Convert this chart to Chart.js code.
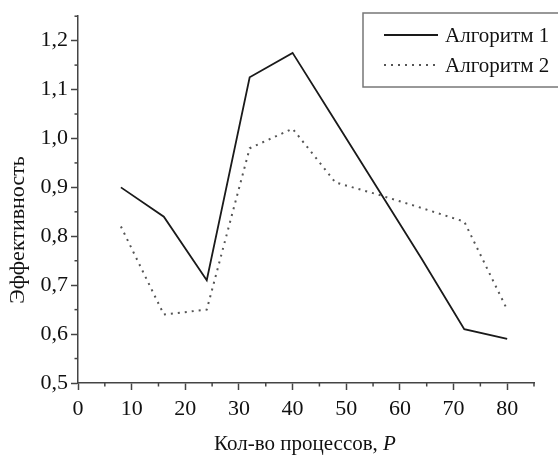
<!DOCTYPE html>
<html>
<head>
<meta charset="utf-8">
<script src="https://cdn.jsdelivr.net/npm/chart.js@4"></script>
<style>
  body { margin: 0; background: #fff; }
  #wrap { width: 558px; height: 456px; }
</style>
</head>
<body>
<div id="wrap"><canvas id="effChart" width="558" height="456"></canvas></div>
<script>
// данные с графика
var processes = [8, 16, 24, 32, 40, 48, 56, 64, 72, 80];
var algo1 = [0.90, 0.84, 0.71, 1.125, 1.175, 1.035, 0.895, 0.755, 0.61, 0.59];
var algo2 = [0.82, 0.64, 0.65, 0.98, 1.02, 0.91, 0.885, 0.858, 0.83, 0.65];
var seriesNames = ['Алгоритм 1', 'Алгоритм 2'];
var xTitle = 'Кол-во процессов, ';
var xTitleItalic = 'P';
var yTitle = 'Эффективность';

var serif = '"Liberation Serif", "Times New Roman", serif';
var axisColor = '#444';

function pts(ys) {
    return processes.map(function (p, i) { return { x: p, y: ys[i] }; });
}

// малые засечки, легенда в рамке и подписи осей
var extras = {
    id: 'extras',
    afterDraw: function (chart) {
        var c = chart.ctx;
        var xs = chart.scales.x, ys = chart.scales.y;
        c.save();
        c.strokeStyle = axisColor;
        c.lineWidth = 1.5;
        xs.ticks.forEach(function (t) {
            if (t.value % 10 !== 0) {
                var px = xs.getPixelForValue(t.value);
                c.beginPath(); c.moveTo(px, xs.top); c.lineTo(px, xs.top + 3.5); c.stroke();
            }
        });
        ys.ticks.forEach(function (t) {
            if (Math.round(t.value * 100) % 10 !== 0) {
                var py = ys.getPixelForValue(t.value);
                c.beginPath(); c.moveTo(ys.right, py); c.lineTo(ys.right - 3.5, py); c.stroke();
            }
        });

        // легенда (правый край рамки за пределами картинки)
        c.strokeStyle = '#777';
        c.lineWidth = 1.5;
        c.strokeRect(363, 13, 200, 74);
        c.font = '21px ' + serif;
        c.textBaseline = 'middle';
        c.fillStyle = '#111';
        chart.data.datasets.forEach(function (ds, i) {
            var y = 35 + i * 30;
            c.save();
            c.strokeStyle = ds.borderColor;
            c.lineWidth = ds.borderWidth;
            c.setLineDash(ds.borderDash || []);
            c.beginPath(); c.moveTo(384, y); c.lineTo(438, y); c.stroke();
            c.restore();
            c.fillText(ds.label, 445, y + 1);
        });

        // подпись оси X (P курсивом)
        c.font = '21px ' + serif;
        var w1 = c.measureText(xTitle).width;
        c.font = 'italic 21px ' + serif;
        var w2 = c.measureText(xTitleItalic).width;
        var x0 = 305 - (w1 + w2) / 2;
        c.textAlign = 'left';
        c.font = '21px ' + serif;
        c.fillText(xTitle, x0, 444);
        c.font = 'italic 21px ' + serif;
        c.fillText(xTitleItalic, x0 + w1, 444);

        // подпись оси Y
        c.translate(18, 230);
        c.rotate(-Math.PI / 2);
        c.textAlign = 'center';
        c.font = '22px ' + serif;
        c.fillText(yTitle, 0, 0);
        c.restore();
    }
};

var ctx = document.getElementById('effChart').getContext('2d');
var effChart = new Chart(ctx, {
    type: 'line',
    data: {
        datasets: [{
            label: seriesNames[0],
            data: pts(algo1),
            borderColor: '#1a1a1a',
            borderWidth: 1.8,
            pointRadius: 0,
            tension: 0,
            fill: false
        }, {
            label: seriesNames[1],
            data: pts(algo2),
            borderColor: '#555',
            borderWidth: 2,
            borderDash: [2, 5],
            pointRadius: 0,
            tension: 0,
            fill: false
        }]
    },
    options: {
        responsive: false,
        animation: false,
        layout: { padding: { top: 13, right: 24, left: 0, bottom: 0 } },
        plugins: { legend: { display: false }, tooltip: { enabled: false } },
        scales: {
            x: {
                type: 'linear',
                min: 0,
                max: 85,
                afterFit: function (s) { s.height = 73; },
                border: { display: true, color: axisColor, width: 1.5 },
                grid: {
                    drawOnChartArea: false,
                    tickLength: 7,
                    tickWidth: 1.5,
                    color: function (c) { return c.tick && c.tick.value % 10 === 0 ? axisColor : 'transparent'; }
                },
                ticks: {
                    stepSize: 5,
                    autoSkip: false,
                    maxRotation: 0,
                    padding: 6,
                    color: '#111',
                    font: { family: serif, size: 22 },
                    callback: function (v) { return v % 10 === 0 && v <= 80 ? String(v) : ''; }
                }
            },
            y: {
                min: 0.5,
                max: 1.25,
                afterFit: function (s) { s.width = 78; },
                border: { display: true, color: axisColor, width: 1.5 },
                grid: {
                    drawOnChartArea: false,
                    tickLength: 7,
                    tickWidth: 1.5,
                    color: function (c) {
                        return c.tick && Math.round(c.tick.value * 100) % 10 === 0 ? axisColor : 'transparent';
                    }
                },
                ticks: {
                    stepSize: 0.05,
                    autoSkip: false,
                    padding: 3,
                    color: '#111',
                    font: { family: serif, size: 22 },
                    callback: function (v) {
                        return Math.round(v * 100) % 10 === 0 ? v.toFixed(1).replace('.', ',') : '';
                    }
                }
            }
        }
    },
    plugins: [extras]
});
</script>
</body>
</html>
